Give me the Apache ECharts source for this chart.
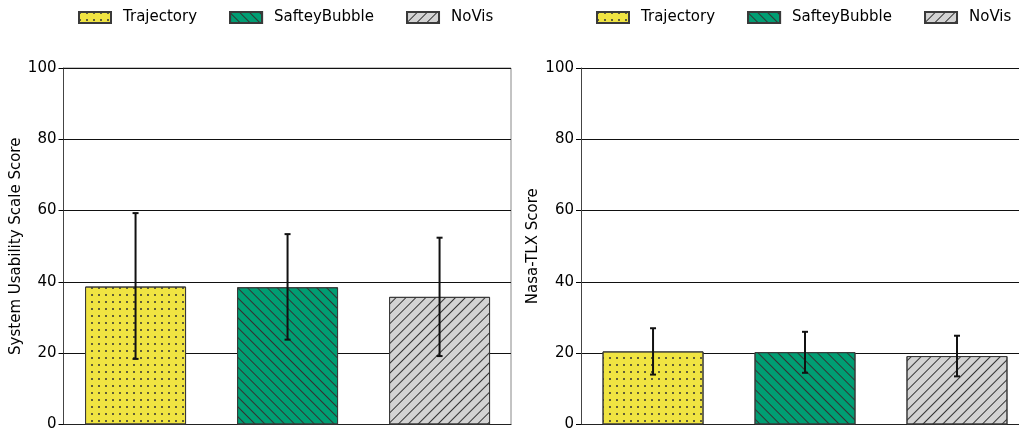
<!DOCTYPE html>
<html>
<head>
<meta charset="utf-8">
<script src="https://cdn.jsdelivr.net/npm/echarts@6/dist/echarts.min.js"></script>
<style>
  html, body { margin: 0; padding: 0; background: #fff; }
  #main { width: 1019px; height: 432px; }
</style>
</head>
<body>
<div id="main"></div>
<script>
// conditions (one bar each, same order in both panels)
const categories = ['Trajectory', 'SafteyBubble', 'NoVis'];

// System Usability Scale: mean and error bar ends
const susMean = [38.7, 38.5, 35.8];
const susLow = [18.4, 23.8, 19.2];
const susHigh = [59.3, 53.4, 52.4];

// Nasa-TLX: mean and error bar ends
const tlxMean = [20.5, 20.3, 19.2];
const tlxLow = [14.0, 14.5, 13.5];
const tlxHigh = [27.0, 26.0, 24.9];

const colors = ['#f0e442', '#009e73', '#d3d3d3'];
const hatchColor = '#333';
const decals = [
  { symbol: 'circle', dashArrayX: [2, 5], dashArrayY: [2, 5], symbolSize: 1, color: hatchColor },
  { symbol: 'rect', dashArrayX: [1, 0], dashArrayY: [1, 6], rotation: Math.PI / 4, color: hatchColor },
  { symbol: 'rect', dashArrayX: [1, 0], dashArrayY: [1, 6], rotation: -Math.PI / 4, color: hatchColor }
];

const font = 'DejaVu Sans';
const fontSize = 15;
// right panel is cut off by the figure edge, so its x range ends early
const panels = [
  { name: 'System Usability Scale Score', mean: susMean, low: susLow, high: susHigh,
    left: 63.5, width: 447.5, xMax: 2.47, border: true },
  { name: 'Nasa-TLX Score', mean: tlxMean, low: tlxLow, high: tlxHigh,
    left: 581, width: 438, xMax: 2.408, border: false }
];

const chart = echarts.init(document.getElementById('main'));

function errorBar(params, api) {
  const x = api.value(0);
  const lo = api.coord([x, api.value(1)]);
  const hi = api.coord([x, api.value(2)]);
  const cap = 3;
  const st = { stroke: '#111', lineWidth: 2 };
  return {
    type: 'group',
    children: [
      { type: 'line', shape: { x1: lo[0], y1: lo[1], x2: hi[0], y2: hi[1] }, style: st },
      { type: 'line', shape: { x1: lo[0] - cap, y1: lo[1], x2: lo[0] + cap, y2: lo[1] }, style: st },
      { type: 'line', shape: { x1: hi[0] - cap, y1: hi[1], x2: hi[0] + cap, y2: hi[1] }, style: st }
    ]
  };
}

const grid = [], xAxis = [], yAxis = [], series = [];
panels.forEach((p, g) => {
  grid.push({
    left: p.left, top: 68, width: p.width, height: 358,
    show: p.border, borderColor: '#888', borderWidth: 1, backgroundColor: 'transparent'
  });
  xAxis.push({
    type: 'value', gridIndex: g, min: -0.474, max: p.xMax,
    axisLine: { show: true, onZero: false, lineStyle: { color: '#222', width: 1 } },
    axisTick: { show: false }, axisLabel: { show: false }, splitLine: { show: false }
  });
  yAxis.push({
    type: 'value', gridIndex: g, min: 0, max: 100, interval: 20,
    name: p.name, nameLocation: 'middle', nameRotate: 90, nameGap: 40,
    nameTextStyle: { fontFamily: font, fontSize: fontSize, color: '#000' },
    axisLine: { show: true, onZero: false, lineStyle: { color: '#444', width: 1 } },
    axisTick: { show: true, length: 5, lineStyle: { color: '#000' } },
    axisLabel: { margin: 7, fontFamily: font, fontSize: fontSize, color: '#000' },
    splitLine: { show: true, lineStyle: { color: '#111', width: 1 } }
  });
  categories.forEach((c, i) => {
    series.push({
      type: 'bar', name: c, xAxisIndex: g, yAxisIndex: g,
      barWidth: 101, barGap: '-100%',
      data: [[i, p.mean[i]]],
      itemStyle: { color: colors[i], borderColor: '#3a3a3a', borderWidth: 1, decal: decals[i] },
      emphasis: { disabled: true },
      z: 2
    });
  });
  series.push({
    type: 'custom', name: 'err' + g, xAxisIndex: g, yAxisIndex: g,
    renderItem: errorBar,
    encode: { x: 0, y: [1, 2] },
    data: categories.map((c, i) => [i, p.low[i], p.high[i]]),
    z: 5, silent: true
  });
});

const legendBase = {
  top: 5, orient: 'horizontal', data: categories, icon: 'rect',
  itemWidth: 32, itemHeight: 11, itemGap: 32,
  selectedMode: false,
  textStyle: { fontFamily: font, fontSize: fontSize, color: '#000', padding: [0, 0, 0, 7] }
};

chart.setOption({
  animation: false,
  backgroundColor: '#fff',
  legend: [
    Object.assign({}, legendBase, { left: 73 }),
    Object.assign({}, legendBase, { left: 591 })
  ],
  grid: grid,
  xAxis: xAxis,
  yAxis: yAxis,
  series: series
});
</script>
</body>
</html>
